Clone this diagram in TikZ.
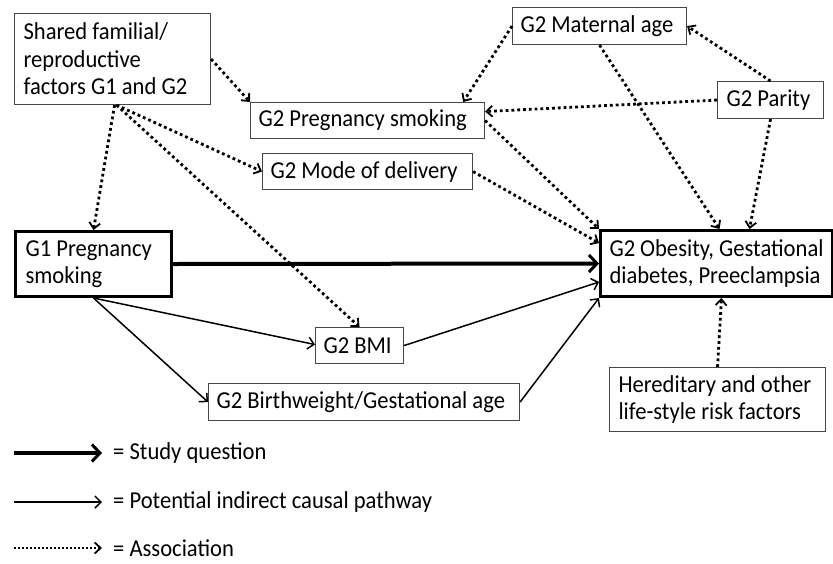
\documentclass[tikz,border=0pt]{standalone}
\usepackage{fontspec}
\setmainfont{Carlito}[FakeStretch=0.93]
\usetikzlibrary{arrows.meta,calc}
\begin{document}
\begin{tikzpicture}[x=1pt,y=-1pt,
  font=\fontsize{24.3}{27.5}\selectfont,
  box/.style={draw=black!72, line width=1.1pt, anchor=north west, inner xsep=8pt, inner ysep=0pt, align=flush left},
  thickbox/.style={box, draw=black, line width=3pt},
  assoc/.style={line width=2.8pt, dash pattern=on 2.8pt off 3pt, -{Straight Barb[length=6pt,width=11pt,line width=1.8pt]}},
  causal/.style={line width=1.5pt, -{Straight Barb[length=6pt,width=12pt,line width=1.5pt]}},
  study/.style={line width=4pt, -{Straight Barb[length=8pt,width=17pt,line width=3pt]}},
  legtext/.style={anchor=west, inner sep=0pt}
]
\useasboundingbox (0,0) rectangle (833,563);

\node[box, text width=178pt, minimum height=91pt, inner xsep=9pt] (shared) at (14,13) {Shared familial/\\reproductive\\factors G1 and G2};
\node[box, text width=218pt, minimum height=36pt] (psmoke) at (250,102) {G2 Pregnancy smoking};
\node[box, text width=194pt, minimum height=36pt] (mode) at (262,153) {G2 Mode of delivery};
\node[thickbox, text width=136pt, minimum height=65pt, inner xsep=10pt] (g1) at (14,230) {G1 Pregnancy\\smoking};
\node[box, text width=158pt, minimum height=37pt] (mat) at (512,7) {G2 Maternal age};
\node[box, text width=88pt, minimum height=37pt, inner xsep=9pt] (par) at (717,81) {G2 Parity};
\node[thickbox, text width=214pt, minimum height=66pt, inner xsep=9pt] (obes) at (599,229) {G2 Obesity, Gestational\\diabetes, Preeclampsia};
\node[box, text width=72pt, minimum height=36pt] (bmi) at (315,327) {G2 BMI};
\node[box, text width=295pt, minimum height=37pt] (bw) at (208,383) {G2 Birthweight/Gestational age};
\node[box, text width=198pt, minimum height=64pt, inner xsep=9pt] (her) at (609,367) {Hereditary and other\\life-style risk factors};

% association (dotted)
\draw[assoc] (shared.east) -- (psmoke.north west);
\draw[assoc] ([xshift=2pt]shared.south) -- (g1.north);
\draw[assoc] ([xshift=4pt]shared.south) -- (mode.west);
\draw[assoc] ([xshift=4pt]shared.south) -- (bmi.north);
\draw[assoc] (mat.west) -- ([xshift=-22pt]psmoke.north east);
\draw[assoc] (par.north) -- (mat.east);
\draw[assoc] (par.west) -- ([yshift=9pt]psmoke.east);
\draw[assoc] (mat.south) -- ([xshift=3pt]obes.north);
\draw[assoc] (par.south) -- ([xshift=33pt]obes.north);
\draw[assoc] (psmoke.east) -- (obes.north west);
\draw[assoc] (mode.east) -- ([yshift=-14pt]obes.north west);
\draw[assoc] (her.north) -- ([xshift=5pt]obes.south);

% causal
\draw[study] (g1.east) -- (obes.west);
\draw[causal] (g1.south) -- ([yshift=1pt]bmi.west);
\draw[causal] (g1.south) -- (bw.west);
\draw[causal] (bmi.east) -- ([yshift=16pt]obes.south west);
\draw[causal] (bw.east) -- (obes.south west);

% legend
\coordinate (l1a) at (14,453); \coordinate (l1b) at (102,453);
\coordinate (l2a) at (14,502); \coordinate (l2b) at (102,502);
\coordinate (l3a) at (14,548); \coordinate (l3b) at (102,548);
\draw[study] (l1a) -- (l1b);
\draw[causal] (l2a) -- (l2b);
\draw[assoc, line width=1.8pt, dash pattern=on 1.8pt off 2.2pt] (l3a) -- (l3b);
\node[legtext] (t1) at (113,453) {= Study question};
\node[legtext] (t2) at (113,502) {= Potential indirect causal pathway};
\node[legtext] (t3) at (113,548) {= Association};
\end{tikzpicture}
\end{document}
